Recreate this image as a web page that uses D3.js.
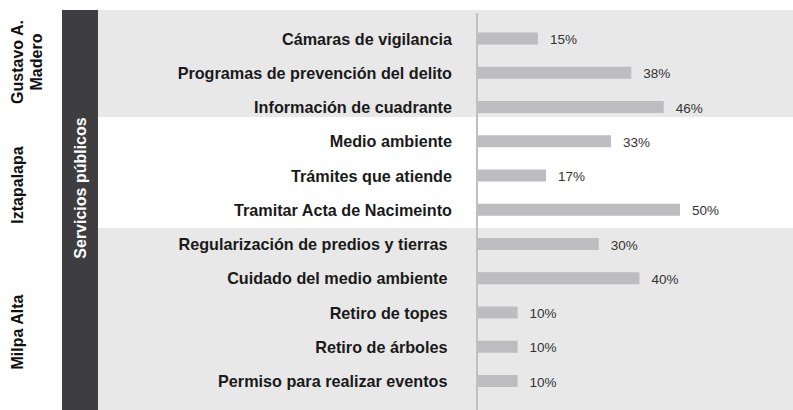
<!DOCTYPE html>
<html>
<head>
<meta charset="utf-8">
<script src="https://cdn.jsdelivr.net/npm/d3@7"></script>
<style>
  body { margin: 0; background: #fff; }
  text { font-family: "Liberation Sans", Arial, Helvetica, sans-serif; }
</style>
</head>
<body>
<div id="chart-container"></div>
<script>
// Data
const categories = [
  "Cámaras de vigilancia",
  "Programas de prevención del delito",
  "Información de cuadrante",
  "Medio ambiente",
  "Trámites que atiende",
  "Tramitar Acta de Nacimeinto",
  "Regularización de predios y tierras ",
  "Cuidado del medio ambiente ",
  "Retiro de topes ",
  "Retiro de árboles ",
  "Permiso para realizar eventos "
];
const values = [15, 38, 46, 33, 17, 50, 30, 40, 10, 10, 10];
const groupNames = [["Gustavo A.", "Madero"], ["Iztapalapa"], ["Milpa Alta"]];
const groupSizes = [3, 3, 5];
const sideTitle = "Servicios públicos";

// Layout
const width = 793, height = 410;
const panelTop = 10;
const panelEdges = [10, 117, 228, 410];   // background band edges
const groupLabelY = [62, 185, 332];
const panelFill = ["#e8e8e8", "#ffffff", "#e8e8e8"];

const svg = d3.select("#chart-container")
  .append("svg")
    .attr("width", width)
    .attr("height", height);

// Scales
const x = d3.scaleLinear()
  .domain([0, 50])
  .range([477, 680]);

const y = d3.scalePoint()
  .domain(categories)
  .range([38.5, 381]);

// Background bands for each group
svg.selectAll(".band")
  .data(groupSizes)
  .join("rect")
  .attr("x", 98)
  .attr("y", (d, i) => panelEdges[i])
  .attr("width", width - 98)
  .attr("height", (d, i) => panelEdges[i + 1] - panelEdges[i])
  .attr("fill", (d, i) => panelFill[i]);

// Dark side band
svg.append("rect")
  .attr("x", 62)
  .attr("y", panelTop)
  .attr("width", 36)
  .attr("height", height - panelTop)
  .attr("fill", "#3e3e40");

svg.append("text")
  .attr("transform", "translate(80,188) rotate(-90)")
  .attr("text-anchor", "middle")
  .attr("dominant-baseline", "central")
  .attr("fill", "#fff")
  .style("font-size", "16px")
  .style("font-weight", "bold")
  .text(sideTitle);

// Group labels (rotated)
const gl = svg.selectAll(".grp")
  .data(groupNames)
  .join("text")
  .attr("transform", (d, i) => `translate(17,${groupLabelY[i]}) rotate(-90)`)
  .attr("text-anchor", "middle")
  .attr("dominant-baseline", "central")
  .attr("fill", "#111")
  .style("font-size", "16px")
  .style("font-weight", "bold");
gl.selectAll("tspan")
  .data(d => d)
  .join("tspan")
  .attr("x", 0)
  .attr("dy", (d, i) => i === 0 ? 0 : 19)
  .text(d => d);

// Bars
svg.selectAll(".bar")
  .data(values)
  .join("rect")
  .attr("x", x(0))
  .attr("y", (d, i) => y(categories[i]) - 6)
  .attr("width", d => x(d) - x(0))
  .attr("height", 12)
  .attr("fill", "#bdbdbf");

// Axis line
svg.append("line")
  .attr("x1", x(0))
  .attr("x2", x(0))
  .attr("y1", 13)
  .attr("y2", height)
  .attr("stroke", "#c0c0c0")
  .attr("stroke-width", 2);

// Category labels
svg.selectAll(".cat")
  .data(categories)
  .join("text")
  .attr("x", 452)
  .attr("y", d => y(d))
  .attr("text-anchor", "end")
  .attr("dominant-baseline", "central")
  .attr("fill", "#1a1a1a")
  .style("font-size", "16.2px")
  .style("font-weight", "bold")
  .style("white-space", "pre")
  .text(d => d);

// Value labels
svg.selectAll(".val")
  .data(values)
  .join("text")
  .attr("x", d => x(d) + 12)
  .attr("y", (d, i) => y(categories[i]) + 1)
  .attr("dominant-baseline", "central")
  .attr("fill", "#333")
  .style("font-size", "13.5px")
  .text(d => d + "%");
</script>
</body>
</html>
